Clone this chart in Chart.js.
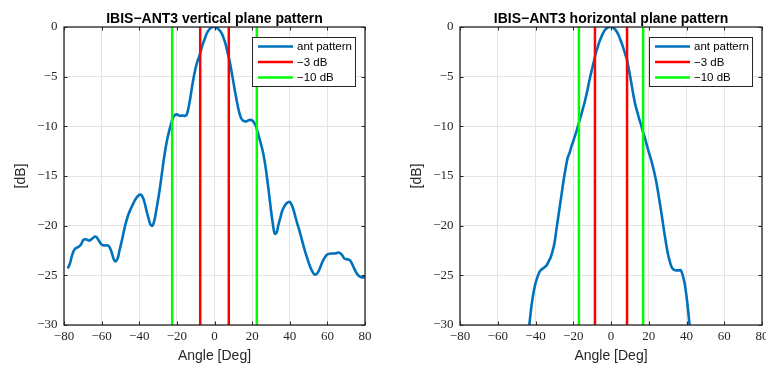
<!DOCTYPE html>
<html>
<head>
<meta charset="utf-8">
<script src="https://cdn.jsdelivr.net/npm/chart.js@4.4.0/dist/chart.umd.min.js"></script>
<style>
  html, body { margin: 0; padding: 0; background: #fff; overflow: hidden; width: 766px; height: 366px; }
  canvas { position: absolute; top: 0; }
  #cv { left: 0; }
  #ch { left: 396px; }
</style>
</head>
<body>
<canvas id="cv" width="383" height="366"></canvas>
<canvas id="ch" width="383" height="366"></canvas>
<script>
// Vertical plane cut: angle [deg] and normalised gain [dB]
const vAngle = [-78, -77, -76, -75, -74, -72, -71, -69.5, -68, -66.5, -65, -63.2, -61.5, -60, -58.5, -56.5, -55, -53.5, -52.5, -51.5, -50.5, -49, -47.5, -46, -44.5, -43, -41.5, -40, -39, -38, -37, -36, -35, -34, -33, -32, -31, -30, -29, -28, -27, -26, -25, -24, -23, -22, -21, -20, -19, -18, -17, -16, -15, -14, -13, -12, -11, -10, -9, -8, -7, -6, -5, -4, -3, -2, -1, 0, 1, 2, 3, 4, 5, 6, 7, 7.5, 8, 9, 10, 11, 12, 13, 14, 15, 16, 17, 18, 19, 20, 21, 22, 23, 24, 25, 26, 27, 28, 29, 30, 31, 32, 33, 34, 35, 36, 37, 38, 39, 40, 41, 42, 43, 44, 45, 46, 47, 48, 49, 50, 51, 52, 53, 54, 55, 56, 57, 58, 59, 60, 62, 64, 66, 67, 68, 69, 71, 72, 73, 74, 75, 76, 77, 78, 80];
const vGain = [-24.3, -23.9, -23.2, -22.6, -22.3, -22.1, -21.9, -21.4, -21.4, -21.5, -21.3, -21.1, -21.5, -21.9, -22.0, -22.0, -22.5, -23.4, -23.6, -23.3, -22.5, -21.3, -20.0, -19.0, -18.3, -17.7, -17.2, -16.9, -16.9, -17.2, -17.8, -18.6, -19.3, -19.9, -20.0, -19.5, -18.5, -17.4, -16.2, -14.8, -13.4, -12.2, -11.2, -10.4, -9.7, -9.1, -8.85, -8.8, -8.9, -8.95, -8.9, -8.95, -8.9, -8.3, -7.3, -6.1, -5.0, -4.1, -3.4, -2.9, -2.2, -1.6, -1.1, -0.6, -0.3, -0.1, 0, 0, -0.05, -0.2, -0.4, -0.7, -1.2, -1.8, -2.6, -3.0, -3.4, -4.4, -5.5, -6.6, -7.6, -8.5, -9.1, -9.4, -9.5, -9.5, -9.4, -9.35, -9.4, -9.6, -10.0, -10.6, -11.3, -12.0, -12.8, -13.9, -15.3, -16.8, -18.4, -19.8, -20.8, -20.7, -19.9, -19.2, -18.5, -18.1, -17.8, -17.65, -17.6, -17.9, -18.4, -19.1, -19.8, -20.4, -21.1, -21.8, -22.5, -23.1, -23.7, -24.2, -24.6, -24.9, -24.9, -24.7, -24.3, -23.8, -23.4, -23.1, -22.9, -22.8, -22.8, -22.7, -22.8, -23.0, -23.3, -23.4, -23.5, -23.8, -24.2, -24.6, -24.9, -25.1, -25.2, -25.2];

// Horizontal plane cut: angle [deg] and normalised gain [dB]
const hAngle = [-45, -44, -43, -42, -41, -40, -39, -38, -37, -36, -35, -34, -33, -32, -31, -30, -29, -28, -27, -26, -25, -24, -23, -22, -21, -20, -19, -18, -17, -16, -15, -14, -13, -12, -11, -10, -9, -8.5, -8, -7, -6, -5, -4, -3, -2, -1, 0, 1, 2, 3, 4, 5, 6, 7, 8, 8.5, 9, 10, 11, 12, 13, 14, 15, 16, 17, 18, 19, 20, 21, 22, 23, 24, 25, 26, 27, 28, 29, 30, 31, 32, 33, 34, 35, 36, 37, 38, 39, 40, 41, 42, 43];
const hGain = [-33.5, -31.5, -29.5, -27.9, -26.7, -25.8, -25.2, -24.7, -24.45, -24.3, -24.15, -23.95, -23.6, -23.2, -22.6, -21.8, -20.5, -19.2, -17.9, -16.6, -15.3, -14.2, -13.2, -12.7, -12.05, -11.5, -10.9, -10.3, -9.65, -9.0, -8.3, -7.6, -6.8, -5.9, -5.0, -4.2, -3.4, -3.0, -2.6, -2.0, -1.4, -0.95, -0.55, -0.25, -0.08, 0, 0, -0.05, -0.2, -0.45, -0.8, -1.3, -1.8, -2.4, -3.0, -3.3, -3.8, -4.8, -5.9, -7.0, -7.9, -8.6, -9.3, -9.9, -10.6, -11.2, -11.9, -12.6, -13.2, -13.9, -14.7, -15.6, -16.7, -17.9, -19.1, -20.4, -21.6, -22.7, -23.5, -24.1, -24.4, -24.5, -24.5, -24.5, -24.5, -25.0, -25.8, -27.1, -28.8, -30.8, -33.0];

// Beamwidth markers [deg]
const vHalfPower = [-7.6, 7.6];
const vTenDb = [-22.5, 22.5];
const hHalfPower = [-8.5, 8.5];
const hTenDb = [-17, 17];

// Axis ticks
const xTicks = [-80, -60, -40, -20, 0, 20, 40, 60, 80];
const yTicks = [-30, -25, -20, -15, -10, -5, 0];
const legendLabels = ['ant pattern', '\u22123 dB', '\u221210 dB'];

const INK = '#262626';
const fmt = v => (v < 0 ? '\u2212' + Math.abs(v) : String(v));
const yMin = yTicks[0], yMax = yTicks[yTicks.length - 1];

function curve(xs, ys) { return xs.map((x, i) => ({ x: x, y: ys[i] })); }
function markers(xs) {
  return [
    { x: xs[0], y: yMax }, { x: xs[0], y: yMin }, { x: xs[0], y: null },
    { x: xs[1], y: yMin }, { x: xs[1], y: yMax }
  ];
}

// Axes box with inward ticks, title and legend in the MATLAB style
const framePlugin = {
  id: 'frame',
  afterDatasetsDraw(chart, args, opts) {
    const { ctx, chartArea: a, scales } = chart;
    ctx.save();
    ctx.strokeStyle = INK;
    ctx.lineWidth = 1;
    const tl = 3.5;
    ctx.beginPath();
    xTicks.forEach(v => {
      const px = Math.round(scales.x.getPixelForValue(v)) + 0.5;
      ctx.moveTo(px, a.bottom); ctx.lineTo(px, a.bottom - tl);
      ctx.moveTo(px, a.top); ctx.lineTo(px, a.top + tl);
    });
    yTicks.forEach(v => {
      const py = Math.round(scales.y.getPixelForValue(v)) + 0.5;
      ctx.moveTo(a.left, py); ctx.lineTo(a.left + tl, py);
      ctx.moveTo(a.right, py); ctx.lineTo(a.right - tl, py);
    });
    ctx.stroke();
    ctx.lineWidth = 1.3;
    ctx.strokeRect(a.left, a.top, a.right - a.left, a.bottom - a.top);

    // title
    ctx.fillStyle = '#000';
    ctx.font = 'bold 14px "Liberation Sans", Arial, sans-serif';
    ctx.textAlign = 'center';
    ctx.textBaseline = 'alphabetic';
    ctx.fillText(opts.title, (a.left + a.right) / 2, 22.5);

    // legend
    const w = 103, h = 49;
    const bx = a.right - 10 - w, by = a.top + 10;
    ctx.fillStyle = '#fff';
    ctx.fillRect(bx, by, w, h);
    ctx.lineWidth = 1;
    ctx.strokeStyle = INK;
    ctx.strokeRect(bx + 0.5, by + 0.5, w, h);
    ctx.font = '11.5px "Liberation Sans", Arial, sans-serif';
    ctx.textAlign = 'left';
    ctx.textBaseline = 'middle';
    chart.data.datasets.forEach((ds, i) => {
      const ry = by + 9.5 + i * 15.5;
      ctx.strokeStyle = ds.borderColor;
      ctx.lineWidth = 2.5;
      ctx.beginPath();
      ctx.moveTo(bx + 6, ry); ctx.lineTo(bx + 41, ry);
      ctx.stroke();
      ctx.fillStyle = '#000';
      ctx.fillText(legendLabels[i], bx + 45, ry + 0.5);
    });
    ctx.restore();
  }
};

function makeChart(id, title, xs, ys, halfPower, tenDb, rightPad) {
  return new Chart(document.getElementById(id), {
    type: 'line',
    data: {
      datasets: [
        { data: curve(xs, ys), borderColor: '#0072BD', borderWidth: 2.6, pointRadius: 0,
          tension: 0.4, order: 3 },
        { data: markers(halfPower), borderColor: '#FF0000', borderWidth: 2.5, pointRadius: 0,
          spanGaps: false, order: 2 },
        { data: markers(tenDb), borderColor: '#00FF00', borderWidth: 2.5, pointRadius: 0,
          spanGaps: false, order: 1 }
      ]
    },
    options: {
      responsive: false,
      animation: false,
      events: [],
      layout: { padding: { top: 27, right: rightPad, left: 0, bottom: 0 } },
      plugins: { legend: { display: false }, tooltip: { enabled: false }, frame: { title: title } },
      scales: {
        x: {
          type: 'linear', min: xTicks[0], max: xTicks[xTicks.length - 1],
          afterBuildTicks: s => { s.ticks = xTicks.map(v => ({ value: v })); },
          afterFit: s => { s.height = 41; },
          grid: { color: '#e4e4e4', lineWidth: 1, drawTicks: false },
          border: { display: false },
          ticks: { callback: fmt, padding: 4, maxRotation: 0, autoSkip: false,
                   color: INK, font: { family: '"Liberation Serif", "Times New Roman", serif', size: 13 } },
          title: { display: true, text: 'Angle [Deg]', color: INK, padding: { top: 0, bottom: 1 },
                   font: { family: '"Liberation Sans", Arial, sans-serif', size: 14 } }
        },
        y: {
          type: 'linear', min: yMin, max: yMax,
          afterBuildTicks: s => { s.ticks = yTicks.map(v => ({ value: v })); },
          afterFit: s => { s.width = 64; },
          grid: { color: '#e4e4e4', lineWidth: 1, drawTicks: false },
          border: { display: false },
          ticks: { callback: fmt, padding: 6.5, autoSkip: false,
                   color: INK, font: { family: '"Liberation Serif", "Times New Roman", serif', size: 13 } },
          title: { display: true, text: '[dB]', color: INK, padding: { top: 13, bottom: 0 },
                   font: { family: '"Liberation Sans", Arial, sans-serif', size: 14 } }
        }
      }
    },
    plugins: [framePlugin]
  });
}

makeChart('cv', 'IBIS\u2212ANT3 vertical plane pattern', vAngle, vGain, vHalfPower, vTenDb, 18);
makeChart('ch', 'IBIS\u2212ANT3 horizontal plane pattern', hAngle, hGain, hHalfPower, hTenDb, 17);
</script>
</body>
</html>
